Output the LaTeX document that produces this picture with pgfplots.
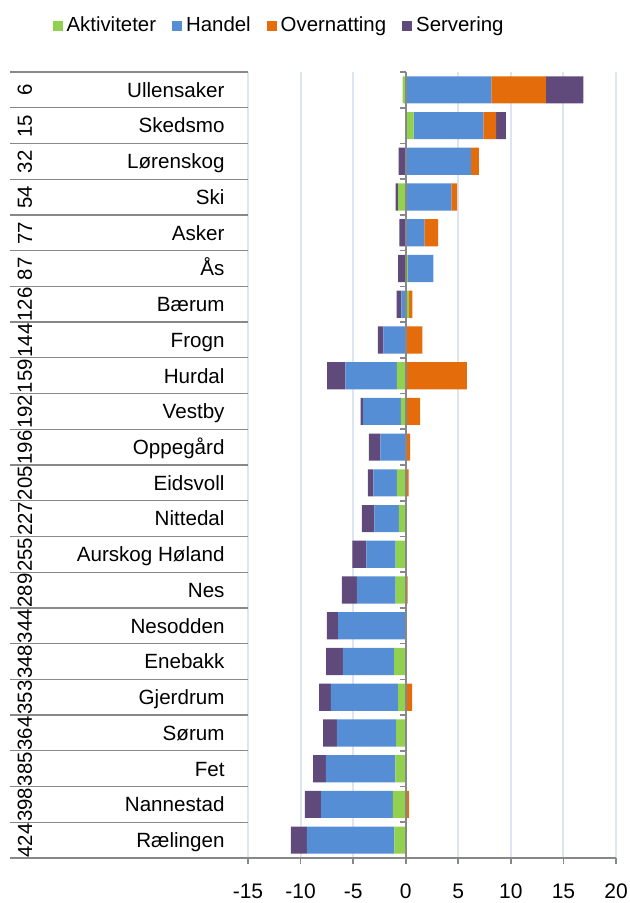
\documentclass[border=0pt]{standalone}
\usepackage{graphicx}
\usepackage{pgfplots}
\usepackage{pgfplotstable}
\pgfplotsset{compat=1.18}
\usepackage{fontspec}
\setmainfont{Liberation Sans}
\definecolor{cgreen}{HTML}{92D050}
\definecolor{cblue}{HTML}{558ED5}
\definecolor{corange}{HTML}{E46C0A}
\definecolor{cpurple}{HTML}{604A7B}
\definecolor{cgrid}{HTML}{DCE6F2}
\definecolor{caxis}{HTML}{888888}
\newcommand{\rk}[1]{\makebox[0pt][r]{\smash{\fontsize{10.2}{12}\selectfont\rotatebox[origin=c]{90}{#1}}\hspace*{96.25pt}}}
\pgfplotsset{
  sq/.style={legend image code/.code={\fill[##1] (0pt,-2.5pt) rectangle (5pt,2.5pt);}},
  common/.style={scale only axis, width=184pt, height=393pt,
    xmin=-15, xmax=20, ymin=-0.5, ymax=21.5, y dir=reverse,
    xbar stacked, bar width=0.76, at={(0,0)}, anchor=south west},
}
\pgfplotstableread{
y gn bn on pn gp bp op pp
0 -0.30 0 0 0 0 8.15 5.18 3.57
1 0 0 0 0 0.76 6.63 1.21 0.92
2 0 0 0 -0.67 0 6.22 0.73 0
3 -0.73 0 0 -0.22 0 4.34 0.55 0
4 0 0 0 -0.60 0 1.78 1.30 0
5 0 0 0 -0.73 0.20 2.43 0 0
6 0 -0.42 0 -0.44 0.32 0 0.31 0
7 0 -2.13 0 -0.51 0.10 0 1.48 0
8 -0.83 -4.92 0 -1.72 0 0 5.81 0
9 -0.45 -3.59 0 -0.25 0 0 1.36 0
10 0 -2.42 0 -1.08 0 0 0.41 0
11 -0.83 -2.25 0 -0.51 0 0 0.28 0
12 -0.64 -2.34 0 -1.18 0 0 0 0
13 -0.95 -2.80 0 -1.33 0 0 0.10 0
14 -0.95 -3.69 0 -1.43 0 0 0.19 0
15 0 -6.42 0 -1.08 0 0 0 0
16 -1.11 -4.86 0 -1.59 0 0 0 0
17 -0.73 -6.38 0 -1.12 0 0 0.60 0
18 -0.92 -5.62 0 -1.31 0 0 0 0
19 -0.99 -6.60 0 -1.21 0 0 0 0
20 -1.21 -6.83 0 -1.55 0 0 0.31 0
21 -1.09 -8.31 0 -1.52 0 0 0 0
}\data
\begin{document}
\begin{tikzpicture}
\path[use as bounding box] (-124pt,-22.5pt) rectangle (191pt,429pt);
\begin{axis}[common, clip=false,
  axis x line*=bottom, axis y line*=left,
  axis line style={-}, x axis line style={caxis, line width=0.8pt, -},
  y axis line style={draw=none},
  xtick={-15,-10,...,20}, x tick style={caxis, line width=0.8pt},
  tick align=outside, major tick length=3pt,
  xmajorgrids, major grid style={cgrid, line width=1pt},
  /pgf/number format/assume math mode=true,
  xticklabel style={font=\fontsize{10.5}{12}\selectfont, yshift=-6.3pt},
  ytick={0,...,21}, y tick style={draw=none},
  yticklabels={Ullensaker\rk{6}, Skedsmo\rk{15}, Lørenskog\rk{32}, Ski\rk{54},
    Asker\rk{77}, Ås\rk{87}, Bærum\rk{126}, Frogn\rk{144}, Hurdal\rk{159},
    Vestby\rk{192}, Oppegård\rk{196}, Eidsvoll\rk{205}, Nittedal\rk{227},
    Aurskog Høland\rk{255}, Nes\rk{289}, Nesodden\rk{344}, Enebakk\rk{348},
    Gjerdrum\rk{353}, Sørum\rk{364}, Fet\rk{385}, Nannestad\rk{398}, Rælingen\rk{424}},
  yticklabel style={font=\fontsize{10.3}{12}\selectfont, anchor=east, xshift=-5.2pt,
    text height=7.4pt, text depth=0pt},
  legend columns=4,
  legend style={draw=none, fill=none, at={(0.087,1.0585)}, anchor=center,
    font=\fontsize{10.2}{12}\selectfont,
    /tikz/every even column/.append style={column sep=6pt}},
]
\addplot[fill=cgreen, draw=none, sq] table[x=gn, y=y] {\data};
\addplot[fill=cblue, draw=none, sq] table[x=bn, y=y] {\data};
\addplot[fill=corange, draw=none, sq] table[x=on, y=y] {\data};
\addplot[fill=cpurple, draw=none, sq] table[x=pn, y=y] {\data};
\legend{Aktiviteter, Handel, Overnatting, Servering}
\pgfplotsinvokeforeach{-0.5,0.5,...,21.5}{\draw[caxis, line width=0.6pt] ([xshift=-119pt]axis cs:-15,#1) -- (axis cs:-15,#1);}
\end{axis}
\begin{axis}[common, axis on top,
  axis x line=none, axis y line=middle,
  axis line style={-}, y axis line style={caxis, line width=1pt, -},
  ytick={-0.5,0.5,...,21.5}, yticklabels={},
  y tick style={caxis, line width=0.8pt},
  tick align=outside, major tick length=3pt,
]
\addplot[fill=cgreen, draw=none] table[x=gp, y=y] {\data};
\addplot[fill=cblue, draw=none] table[x=bp, y=y] {\data};
\addplot[fill=corange, draw=none] table[x=op, y=y] {\data};
\addplot[fill=cpurple, draw=none] table[x=pp, y=y] {\data};
\end{axis}
\end{tikzpicture}
\end{document}
